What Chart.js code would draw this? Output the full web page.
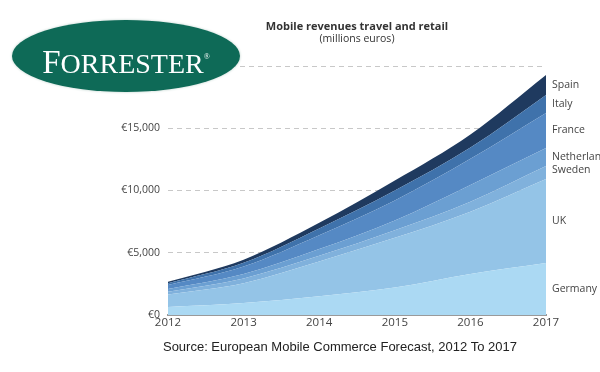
<!DOCTYPE html>
<html>
<head>
<meta charset="utf-8">
<script src="https://cdn.jsdelivr.net/npm/chart.js@4"></script>
<style>
  html, body { margin: 0; padding: 0; background: #fff; }
  #wrap { position: relative; width: 600px; height: 372px; }
  #logo {
    position: absolute; left: 12px; top: 20px; width: 228px; height: 72px;
    border-radius: 50%; background: #0e6a57;
    box-shadow: 0 0 2px 1px #dfe9e6;
    color: #fff; font-family: "Liberation Serif", "DejaVu Serif", serif;
    font-size: 28px; letter-spacing: 0px;
    text-align: center; line-height: 74px; white-space: nowrap;
  }
  #logo .big { font-size: 33px; }
  #logo sup { font-size: 8px; vertical-align: 14px; }
</style>
</head>
<body>
<div id="wrap">
  <canvas id="revenue" width="600" height="372"></canvas>
  <div id="logo"><span class="big">F</span>ORRESTER<sup>®</sup></div>
</div>
<script>
// years + millions of euros per country
var years = ["2012", "2013", "2014", "2015", "2016", "2017"];
var countries = ["Germany", "UK", "Sweden", "Netherlands", "France", "Italy", "Spain"];
var germany     = [640, 960, 1500, 2200, 3300, 4180];
var uk          = [1000, 1600, 2800, 4000, 5000, 6750];
var sweden      = [220, 380, 450, 600, 800, 1040];
var netherlands = [220, 350, 550, 800, 1350, 1450];
var france      = [320, 600, 1100, 1600, 2100, 2810];
var italy       = [150, 300, 550, 800, 900, 1450];
var spain       = [120, 250, 450, 800, 1050, 1600];
var yTicks = [0, 5000, 10000, 15000, 20000];

var colors = ['#abd9f3', '#94c4e7', '#80b1dc', '#6b9fd2', '#5589c4', '#3f72ab', '#1f3a5f'];
var series = [germany, uk, sweden, netherlands, france, italy, spain];

var datasets = series.map(function(vals, i) {
    return {
        label: countries[i],
        data: vals,
        backgroundColor: colors[i],
        borderColor: colors[i],
        borderWidth: 0,
        pointRadius: 0,
        fill: i === 0 ? 'origin' : '-1',
        cubicInterpolationMode: 'monotone'
    };
});

// title, series names at the right end, source line
var extras = {
    id: 'extras',
    afterDraw: function(chart) {
        var c = chart.ctx, area = chart.chartArea;
        var mid = (area.left + area.right) / 2;
        c.save();
        c.fillStyle = '#333';
        c.textAlign = 'center';
        c.textBaseline = 'middle';
        c.font = 'bold 11px "Open Sans"';
        c.fillText('Mobile revenues travel and retail', mid, 27);
        c.font = '10.5px "Open Sans"';
        c.fillText('(millions euros)', mid, 39);

        c.textAlign = 'left';
        c.font = '10.5px "Open Sans"';
        c.fillStyle = '#444';
        var prev = area.bottom;
        chart.data.datasets.forEach(function(ds, i) {
            var pts = chart.getDatasetMeta(i).data;
            var y = pts[pts.length - 1].y;
            var ly = (y + prev) / 2;
            if (ds.label === 'Sweden') ly -= 2;
            c.fillText(ds.label, area.right + 6, ly);
            prev = y;
        });

        c.textAlign = 'center';
        c.fillStyle = '#222';
        c.font = '13px "Liberation Sans"';
        c.fillText('Source: European Mobile Commerce Forecast, 2012 To 2017', 340, 347);
        c.restore();
    }
};

var ctx = document.getElementById('revenue').getContext('2d');
var chart = new Chart(ctx, {
    type: 'line',
    data: { labels: years, datasets: datasets },
    plugins: [extras],
    options: {
        responsive: false,
        animation: false,
        layout: { padding: { top: 66, right: 54, left: 0, bottom: 0 } },
        plugins: { legend: { display: false }, tooltip: { enabled: false } },
        scales: {
            x: {
                offset: false,
                grid: { display: false, drawTicks: false },
                border: { display: true, color: '#9a9a9a', width: 2 },
                ticks: { color: '#444', font: { size: 11.5, family: 'Open Sans' }, padding: 1, maxRotation: 0 },
                afterFit: function(scale) { scale.height = 57; }
            },
            y: {
                stacked: true,
                min: 0,
                max: 20000,
                afterBuildTicks: function(scale) {
                    scale.ticks = yTicks.map(function(v) { return { value: v }; });
                },
                grid: { color: '#c8c8c8', lineWidth: 1, drawTicks: false },
                border: { display: false, dash: [5, 4] },
                ticks: {
                    color: '#444',
                    padding: 8,
                    font: { size: 10.5, family: 'Open Sans' },
                    callback: function(v) {
                        if (v === 20000) return '';
                        return '€' + v.toLocaleString('en-US');
                    }
                },
                afterFit: function(scale) { scale.width = 168; }
            }
        }
    }
});
</script>
</body>
</html>
